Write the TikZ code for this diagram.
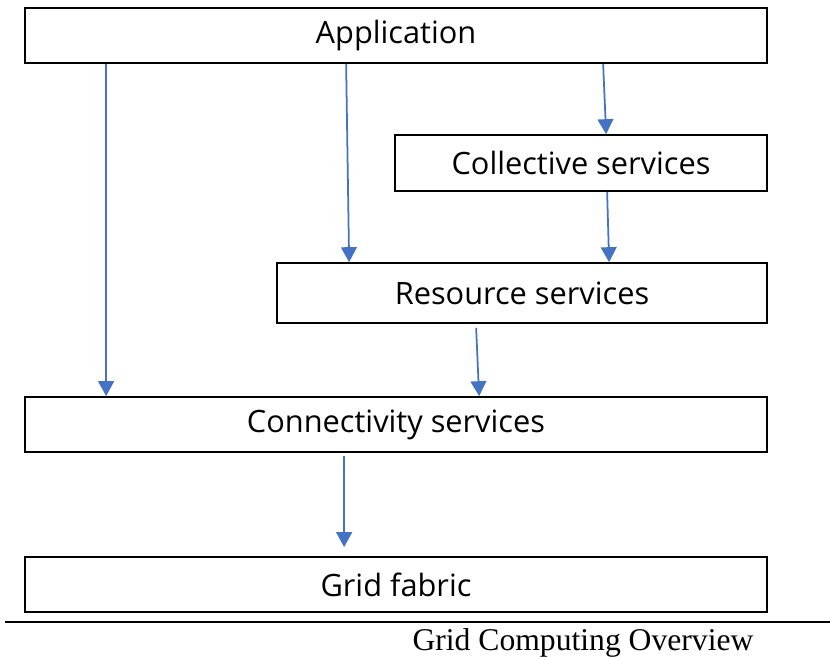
\documentclass[tikz,border=0pt]{standalone}
\usepackage{fontspec}
\setmainfont{Liberation Serif}
\newfontfamily\boxfont{Open Sans}
\usetikzlibrary{arrows.meta, positioning}

\begin{document}
\begin{tikzpicture}[
    layer/.style={rectangle, draw, line width=1pt, inner sep=0pt, minimum height=1.1cm, font=\boxfont\fontsize{17.5}{20}\selectfont},
    flow/.style={draw={rgb,255:red,68;green,114;blue,196}, line width=1pt, -{Triangle[width=9pt,length=8.5pt]}},
]
    \useasboundingbox (0,0) rectangle (16.6,-13.14);

    \node[layer, minimum width=14.84cm] (app) at (7.92,-0.71) {Application};
    \node[layer, minimum width=7.44cm, minimum height=1.12cm] (coll) at (11.62,-3.26) {Collective services};
    \node[layer, minimum width=9.8cm, minimum height=1.2cm] (res) at (10.44,-5.86) {Resource services};
    \node[layer, minimum width=14.84cm] (conn) at (7.92,-8.49) {Connectivity services};
    \node[layer, minimum width=14.84cm] (fabric) at (7.92,-11.69) {Grid fabric};

    % caption under the rule
    \coordinate (ruleL) at (0.1,-12.44);
    \coordinate (ruleR) at (16.6,-12.44);
    \draw[line width=1.1pt] (ruleL) -- (ruleR);
    \node[font=\fontsize{18}{20}\selectfont] (caption) at (11.66,-12.86) {Grid Computing Overview};

    \draw[flow] ([xshift=1.64cm]app.south west) -- ([xshift=1.64cm]conn.north west);
    \draw[flow] ([xshift=6.44cm]app.south west) -- ([xshift=1.46cm]res.north west);
    \draw[flow] ([xshift=11.58cm]app.south west) -- ([xshift=4.24cm]coll.north west);
    \draw[flow] ([xshift=4.26cm]coll.south west) -- ([xshift=6.66cm]res.north west);
    \draw[flow] ([xshift=4.0cm,yshift=-0.08cm]res.south west) -- ([xshift=9.1cm]conn.north west);
    \draw[flow] ([xshift=6.4cm,yshift=-0.06cm]conn.south west) -- ([xshift=6.4cm,yshift=0.18cm]fabric.north west);
\end{tikzpicture}
\end{document}
